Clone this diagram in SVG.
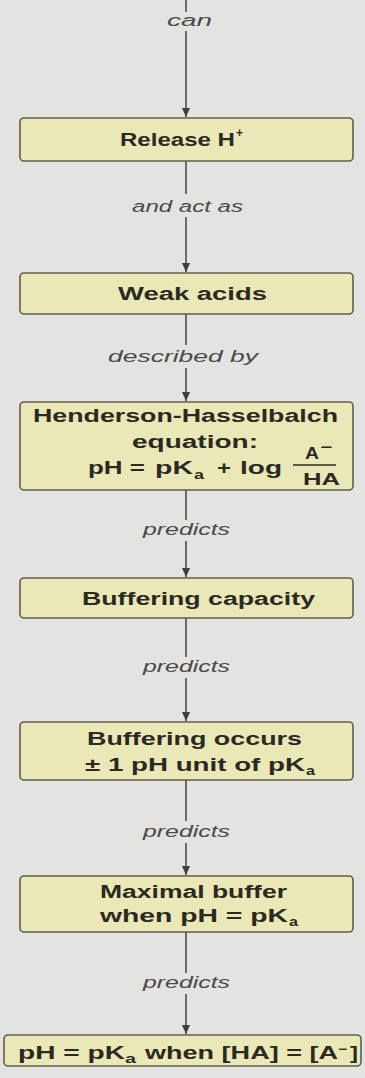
<svg xmlns="http://www.w3.org/2000/svg" width="365" height="1078" viewBox="0 0 365 1078">
<style>
.box{fill:#ebe8b7;stroke:#5f5f4e;stroke-width:1.6}
.t{font-family:"Liberation Sans",Arial,sans-serif;font-weight:bold;font-size:18px;fill:#2a2a22}
.s{font-family:"Liberation Sans",Arial,sans-serif;font-weight:bold;font-size:12px;fill:#2a2a22}
.f{font-family:"Liberation Sans",Arial,sans-serif;font-weight:bold;font-size:16px;fill:#2a2a22}
.lbl{font-family:"Liberation Sans",Arial,sans-serif;font-style:italic;font-size:16px;fill:#4a4a48}
.ln{stroke:#4e4e4a;stroke-width:1.6;fill:none}
</style>
<defs>
<marker id="ah" markerUnits="userSpaceOnUse" markerWidth="9" markerHeight="8" viewBox="0 0 9 8" refX="9" refY="4" orient="auto">
<path d="M0,0 L9,4 L0,8 z" fill="#3e3e3a"/>
</marker>
</defs>
<rect x="0" y="0" width="365" height="1078" fill="#e3e3e1"/>
<g id="connectors">
<line class="ln" x1="186" y1="0" x2="186" y2="12"/>
<line class="ln" x1="186" y1="31" x2="186" y2="117" marker-end="url(#ah)"/>
<line class="ln" x1="186" y1="161" x2="186" y2="194"/>
<line class="ln" x1="186" y1="217" x2="186" y2="272" marker-end="url(#ah)"/>
<line class="ln" x1="186" y1="314" x2="186" y2="345"/>
<line class="ln" x1="186" y1="368" x2="186" y2="401" marker-end="url(#ah)"/>
<line class="ln" x1="186" y1="490" x2="186" y2="520"/>
<line class="ln" x1="186" y1="541" x2="186" y2="577" marker-end="url(#ah)"/>
<line class="ln" x1="186" y1="618" x2="186" y2="657"/>
<line class="ln" x1="186" y1="678" x2="186" y2="721" marker-end="url(#ah)"/>
<line class="ln" x1="186" y1="780" x2="186" y2="821"/>
<line class="ln" x1="186" y1="843" x2="186" y2="875" marker-end="url(#ah)"/>
<line class="ln" x1="186" y1="932" x2="186" y2="973"/>
<line class="ln" x1="186" y1="994" x2="186" y2="1034" marker-end="url(#ah)"/>
<text class="lbl" x="167" y="26" textLength="45" lengthAdjust="spacingAndGlyphs">can</text>
<text class="lbl" x="132" y="212" textLength="111" lengthAdjust="spacingAndGlyphs">and act as</text>
<text class="lbl" x="108" y="362" textLength="150" lengthAdjust="spacingAndGlyphs">described by</text>
<text class="lbl" x="143" y="535" textLength="87" lengthAdjust="spacingAndGlyphs">predicts</text>
<text class="lbl" x="143" y="672" textLength="87" lengthAdjust="spacingAndGlyphs">predicts</text>
<text class="lbl" x="143" y="837" textLength="87" lengthAdjust="spacingAndGlyphs">predicts</text>
<text class="lbl" x="143" y="988" textLength="87" lengthAdjust="spacingAndGlyphs">predicts</text>
</g>
<g id="release">
<rect class="box" x="20" y="118" width="333" height="43" rx="4"/>
<text class="t" x="120" y="146" textLength="115" lengthAdjust="spacingAndGlyphs">Release H</text>
<text class="s" x="236" y="137">+</text>
</g>
<g id="weak">
<rect class="box" x="20" y="273" width="333" height="41" rx="4"/>
<text class="t" x="118" y="300" textLength="149" lengthAdjust="spacingAndGlyphs">Weak acids</text>
</g>
<g id="hh">
<rect class="box" x="20" y="402" width="333" height="88" rx="4"/>
<text class="t" x="33" y="422" textLength="305" lengthAdjust="spacingAndGlyphs">Henderson-Hasselbalch</text>
<text class="t" x="132" y="448" textLength="126" lengthAdjust="spacingAndGlyphs">equation:</text>
<text class="t" x="88" y="474" textLength="57" lengthAdjust="spacingAndGlyphs">pH =</text>
<text class="t" x="155" y="474" textLength="38" lengthAdjust="spacingAndGlyphs">pK</text>
<text class="s" x="194" y="479" textLength="10" lengthAdjust="spacingAndGlyphs">a</text>
<text class="t" x="217" y="474" textLength="14" lengthAdjust="spacingAndGlyphs">+</text>
<text class="t" x="240" y="474" textLength="42" lengthAdjust="spacingAndGlyphs">log</text>
<text class="f" x="305" y="459" textLength="14" lengthAdjust="spacingAndGlyphs">A</text>
<text class="s" x="320" y="451" textLength="12" lengthAdjust="spacingAndGlyphs">−</text>
<line x1="293" y1="465" x2="336" y2="465" stroke="#2a2a22" stroke-width="1.6"/>
<text class="f" x="303" y="485" textLength="37" lengthAdjust="spacingAndGlyphs">HA</text>
</g>
<g id="capacity">
<rect class="box" x="20" y="578" width="333" height="40" rx="4"/>
<text class="t" x="82" y="605" textLength="233" lengthAdjust="spacingAndGlyphs">Buffering capacity</text>
</g>
<g id="occurs">
<rect class="box" x="20" y="722" width="333" height="58" rx="4"/>
<text class="t" x="87" y="745" textLength="215" lengthAdjust="spacingAndGlyphs">Buffering occurs</text>
<text class="t" x="85" y="771" textLength="220" lengthAdjust="spacingAndGlyphs">± 1 pH unit of pK</text>
<text class="s" x="306" y="775" textLength="9" lengthAdjust="spacingAndGlyphs">a</text>
</g>
<g id="maximal">
<rect class="box" x="20" y="876" width="333" height="56" rx="4"/>
<text class="t" x="100" y="898" textLength="187" lengthAdjust="spacingAndGlyphs">Maximal buffer</text>
<text class="t" x="100" y="922" textLength="188" lengthAdjust="spacingAndGlyphs">when pH = pK</text>
<text class="s" x="289" y="926" textLength="9" lengthAdjust="spacingAndGlyphs">a</text>
</g>
<g id="final">
<rect class="box" x="4" y="1035" width="357" height="31" rx="4"/>
<text class="t" x="18" y="1059" textLength="107" lengthAdjust="spacingAndGlyphs">pH = pK</text>
<text class="s" x="125" y="1063" textLength="11" lengthAdjust="spacingAndGlyphs">a</text>
<text class="t" x="145" y="1059" textLength="193" lengthAdjust="spacingAndGlyphs">when [HA] = [A</text>
<text class="s" x="338" y="1053" textLength="9" lengthAdjust="spacingAndGlyphs">−</text>
<text class="t" x="350" y="1059" textLength="8" lengthAdjust="spacingAndGlyphs">]</text>
</g>
</svg>
